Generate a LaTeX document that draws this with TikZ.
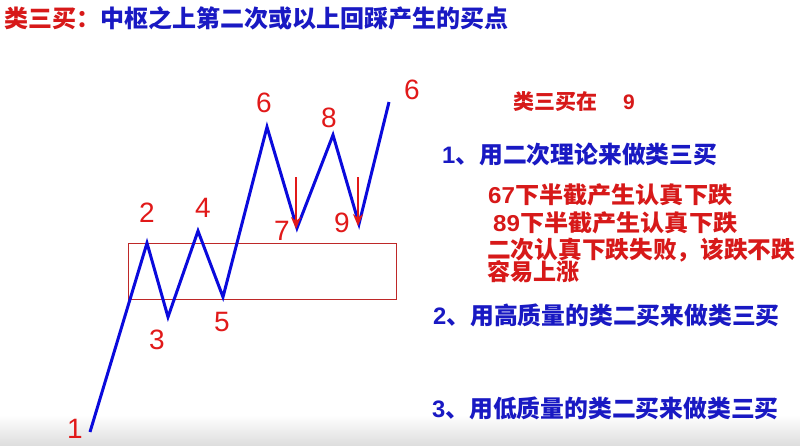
\documentclass[tikz,border=0pt]{standalone}
\usepackage{fontspec}
\setmainfont{Liberation Sans}
\newfontfamily\cjk{Noto Sans CJK SC}
\newfontfamily\lat{Liberation Sans}
\usetikzlibrary{arrows.meta}
\definecolor{hred}{RGB}{225,25,25}
\definecolor{tred}{RGB}{215,25,25}
\definecolor{tblue}{RGB}{25,25,195}
\definecolor{lblue}{RGB}{10,10,220}
\definecolor{bred}{RGB}{190,40,40}
\tikzset{
  hand/.style={text=hred, font=\lat\fontsize{28}{30}\selectfont, inner sep=0pt},
  txt/.style={anchor=west, inner sep=0pt, font=\cjk\bfseries\fontsize{#1}{#1}\selectfont},
  wave/.style={draw=lblue, line width=3pt, line join=miter},
  zone/.style={draw=bred, line width=1pt},
  downarrow/.style={draw=hred, line width=2.2pt, -{Stealth[length=12pt,width=10pt]}}
}
\begin{document}
\begin{tikzpicture}[x=1pt,y=-1pt]
\useasboundingbox (0,0) rectangle (800,445);
\fill[white] (0,0) rectangle (800,445);
\shade[top color=white, bottom color=black!13] (0,415) rectangle (800,445);
% zone box
\node[zone, minimum width=268pt, minimum height=56pt, anchor=north west, inner sep=0pt] (box) at (128,243) {};
% wave points
\coordinate (p1) at (90,432);
\coordinate (p2) at (147,243);
\coordinate (p3) at (168,317);
\coordinate (p4) at (198,231);
\coordinate (p5) at (223,297);
\coordinate (p6) at (267,127);
\coordinate (p7) at (297,228);
\coordinate (p8) at (333,135);
\coordinate (p9) at (359,224);
\coordinate (p10) at (389,102);
\draw[wave] (p1) -- (p2) -- (p3) -- (p4) -- (p5) -- (p6) -- (p7) -- (p8) -- (p9) -- (p10);
% arrows
\coordinate (a7s) at (296,177);
\coordinate (a7e) at (296,229);
\coordinate (a9s) at (358,177);
\coordinate (a9e) at (358,226);
\draw[downarrow] (a7s) -- (a7e);
\draw[downarrow] (a9s) -- (a9e);
% hand labels
\node[hand] (l1) at (75,429) {1};
\node[hand] (l2) at (147,213) {2};
\node[hand] (l3) at (157,340) {3};
\node[hand] (l4) at (203,208) {4};
\node[hand] (l5) at (222,322) {5};
\node[hand] (l6) at (264,103) {6};
\node[hand] (l7) at (282,231) {7};
\node[hand] (l8) at (329,118) {8};
\node[hand] (l9) at (342,223) {9};
\node[hand] (l10) at (412,90) {6};
% texts
\node[txt=24] (title) at (4,18) {\textcolor{tred}{类三买：}\textcolor{tblue}{中枢之上第二次或以上回踩产生的买点}};
\node[txt=21, text=tred] (t0) at (513,102) {类三买在\hspace{26pt}{\lat\bfseries 9}};
\node[txt=23.8, text=tblue] (t1) at (442,155) {{\lat\bfseries 1}、用二次理论来做类三买};
\node[txt=23, text=tred] (t2) at (488,195) {\scalebox{1.05}[1]{{\lat\bfseries 67}下半截产生认真下跌}};
\node[txt=23, text=tred] (t3) at (493,223) {\scalebox{1.05}[1]{{\lat\bfseries 89}下半截产生认真下跌}};
\node[txt=23.7, text=tred] (t4) at (487,250) {二次认真下跌失败，该跌不跌};
\node[txt=23, text=tred] (t5) at (487,272) {容易上涨};
\node[txt=23.8, text=tblue] (t6) at (433,315) {{\lat\bfseries 2}、用高质量的类二买来做类三买};
\node[txt=23.8, text=tblue] (t7) at (432,408) {{\lat\bfseries 3}、用低质量的类二买来做类三买};
\end{tikzpicture}
\end{document}
